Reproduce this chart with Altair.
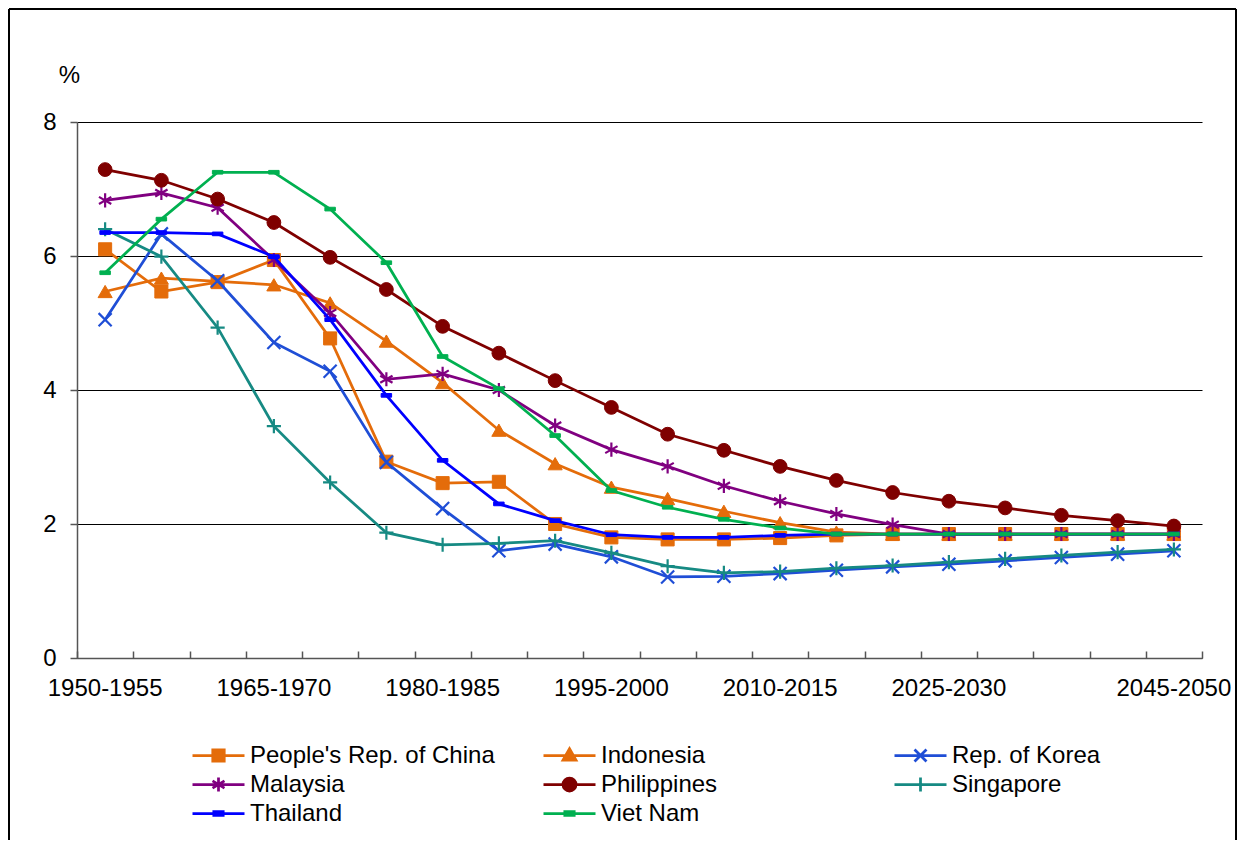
import altair as alt
import pandas as pd

periods = ["1950-1955", "1955-1960", "1960-1965", "1965-1970", "1970-1975",
           "1975-1980", "1980-1985", "1985-1990", "1990-1995", "1995-2000",
           "2000-2005", "2005-2010", "2010-2015", "2015-2020", "2020-2025",
           "2025-2030", "2030-2035", "2035-2040", "2040-2045", "2045-2050"]
shown_labels = ["1950-1955", "1965-1970", "1980-1985", "1995-2000",
                "2010-2015", "2025-2030", "2045-2050"]

countries = ["People's Rep. of China", "Indonesia", "Rep. of Korea", "Malaysia",
             "Philippines", "Singapore", "Thailand", "Viet Nam"]

china = [6.10, 5.47, 5.61, 5.94, 4.77, 2.93, 2.61, 2.63, 2.00, 1.80,
         1.77, 1.77, 1.79, 1.83, 1.85, 1.85, 1.85, 1.85, 1.85, 1.85]
indonesia = [5.47, 5.67, 5.62, 5.57, 5.30, 4.73, 4.11, 3.40, 2.90, 2.55,
             2.38, 2.19, 2.02, 1.88, 1.85, 1.85, 1.85, 1.85, 1.85, 1.85]
korea = [5.05, 6.33, 5.63, 4.71, 4.28, 2.92, 2.23, 1.60, 1.70, 1.51,
         1.21, 1.22, 1.26, 1.31, 1.36, 1.40, 1.45, 1.50, 1.55, 1.60]
malaysia = [6.83, 6.94, 6.72, 5.94, 5.15, 4.16, 4.24, 4.00, 3.47, 3.11,
            2.86, 2.57, 2.34, 2.15, 1.99, 1.85, 1.85, 1.85, 1.85, 1.85]
philippines = [7.29, 7.13, 6.85, 6.50, 5.98, 5.50, 4.95, 4.55, 4.14, 3.74,
               3.34, 3.10, 2.86, 2.65, 2.47, 2.34, 2.24, 2.13, 2.05, 1.97]
singapore = [6.40, 5.99, 4.93, 3.46, 2.62, 1.87, 1.69, 1.71, 1.75, 1.57,
             1.37, 1.27, 1.29, 1.34, 1.38, 1.43, 1.48, 1.53, 1.58, 1.62]
thailand = [6.35, 6.35, 6.33, 5.99, 5.05, 3.92, 2.95, 2.30, 2.05, 1.84,
            1.80, 1.80, 1.83, 1.85, 1.85, 1.85, 1.85, 1.85, 1.85, 1.85]
vietnam = [5.75, 6.55, 7.25, 7.25, 6.70, 5.90, 4.50, 4.02, 3.32, 2.50,
           2.25, 2.07, 1.94, 1.85, 1.85, 1.85, 1.85, 1.85, 1.85, 1.85]

series = [china, indonesia, korea, malaysia, philippines, singapore, thailand, vietnam]
colors = ["#E46C0A", "#E46C0A", "#1F4ED6", "#800080", "#7F0000", "#168A83", "#0000FF", "#00B050"]

# chart markers: (shape, size, strokeWidth)
markers = [
    ("square", 170, 1),
    ("triangle-up", 200, 1),
    ("M-1,-1L1,1M-1,1L1,-1", 170, 2.2),
    ("M0,-1V1M-0.87,-0.5L0.87,0.5M-0.87,0.5L0.87,-0.5", 200, 2.2),
    ("circle", 190, 1),
    ("M-1,0H1M0,-1V1", 200, 2.2),
    ("M-1,-0.35H1V0.35H-1Z", 110, 1),
    ("M-1,-0.35H1V0.35H-1Z", 110, 1),
]

# legend symbols: line plus marker, normalized to [-1, 1]
legend_paths = [
    "M-1,0H1M-0.22,-0.22H0.22V0.22H-0.22Z",
    "M-1,0H1M0,-0.26L0.25,0.18L-0.25,0.18Z",
    "M-1,0H1M-0.23,-0.23L0.23,0.23M-0.23,0.23L0.23,-0.23",
    "M-1,0H1M0,-0.27V0.27M-0.23,-0.14L0.23,0.14M-0.23,0.14L0.23,-0.14",
    "M-1,0H1M-0.25,0A0.25,0.25,0,1,0,0.25,0A0.25,0.25,0,1,0,-0.25,0Z",
    "M-1,0H1M0,-0.27V0.27",
    "M-1,0H1M-0.18,-0.07H0.18V0.07H-0.18Z",
    "M-1,0H1M-0.18,-0.07H0.18V0.07H-0.18Z",
]

rows = []
for c, vals in zip(countries, series):
    for p, v in zip(periods, vals):
        rows.append({"period": p, "country": c, "value": v})
df = pd.DataFrame(rows)

FONT = "Liberation Sans"

x_scale = alt.Scale(type="band", domain=periods, paddingInner=0, paddingOuter=0)
y_scale = alt.Scale(domain=[0, 8])

main_x_axis = alt.Axis(orient="bottom", values=shown_labels, ticks=False, tickSize=0,
                       domain=True, domainColor="#555555", domainWidth=1.5,
                       labelAngle=0, labelFont=FONT, labelFontSize=24, labelColor="black",
                       labelPadding=18, title=None, grid=False)
tick_x_axis = alt.Axis(orient="bottom", labels=False, domain=False, ticks=True,
                       tickBand="extent", tickSize=7, tickColor="#555555", tickWidth=1.5,
                       offset=-7, title=None, grid=False)
y_axis = alt.Axis(values=[0, 2, 4, 6, 8], grid=True, gridColor="black", gridWidth=1,
                  domainColor="#555555", domainWidth=1.5, tickColor="#555555",
                  tickSize=7, tickWidth=1.5, labelFont=FONT, labelFontSize=24,
                  labelColor="black", labelPadding=14, title="%", titleAngle=0,
                  titleX=-8, titleY=-47, titleAlign="center", titleBaseline="middle",
                  titleFont=FONT, titleFontSize=24, titleFontWeight="normal",
                  titleColor="black")

layers = []
for i, c in enumerate(countries):
    base = alt.Chart(df).transform_filter(alt.FieldEqualPredicate(field="country", equal=c))
    xa_line = main_x_axis if i == 0 else None
    xa_pt = tick_x_axis if i == 0 else None
    line = base.mark_line(color=colors[i], strokeWidth=2.75).encode(
        x=alt.X("period:N", scale=x_scale, sort=periods, axis=xa_line),
        y=alt.Y("value:Q", scale=y_scale, axis=y_axis),
    )
    shape, size, sw = markers[i]
    pts = base.mark_point(shape=shape, size=size, filled=True, fill=colors[i],
                          stroke=colors[i], strokeWidth=sw, opacity=1).encode(
        x=alt.X("period:N", scale=x_scale, sort=periods, axis=xa_pt),
        y=alt.Y("value:Q", scale=y_scale, axis=y_axis),
    )
    layers += [line, pts]

leg = alt.Legend(title=None, orient="none", legendX=114, legendY=620, columns=3,
                 direction="horizontal",
                 gridAlign="all", columnPadding=47, rowPadding=2, clipHeight=27,
                 symbolSize=2704, symbolStrokeWidth=2.75, symbolOffset=0,
                 labelFont=FONT, labelFontSize=24, labelColor="black",
                 labelOffset=4, labelLimit=400, padding=0)

legend_layer = alt.Chart(df).transform_filter("false").mark_point(
    filled=True, opacity=1).encode(
    fill=alt.Fill("country:N", scale=alt.Scale(domain=countries, range=colors), legend=leg),
    stroke=alt.Stroke("country:N", scale=alt.Scale(domain=countries, range=colors), legend=leg),
    shape=alt.Shape("country:N", scale=alt.Scale(domain=countries, range=legend_paths), legend=leg),
)

frame_src = alt.Data(values=[{"k": 0}])
frame_left = alt.Chart(frame_src).mark_rule(color="black", strokeWidth=2).encode(
    x=alt.value(-68), y=alt.value(-113), y2=alt.value(718))
frame_top = alt.Chart(frame_src).mark_rule(color="black", strokeWidth=2).encode(
    x=alt.value(-68), x2=alt.value(1159), y=alt.value(-113))
frame_right = alt.Chart(frame_src).mark_rule(color="black", strokeWidth=2).encode(
    x=alt.value(1159), y=alt.value(-113), y2=alt.value(718))

chart = alt.layer(*layers, legend_layer, frame_left, frame_top, frame_right).resolve_axis(
    x="independent"
).properties(
    width=1125, height=536,
    autosize=alt.AutoSizeParams(type="none"),
    padding={"left": 69, "top": 114, "right": 36, "bottom": 182},
    background="white",
).configure_view(stroke=None)

chart.save("out.html", embed_options={"renderer": "svg", "actions": False})
